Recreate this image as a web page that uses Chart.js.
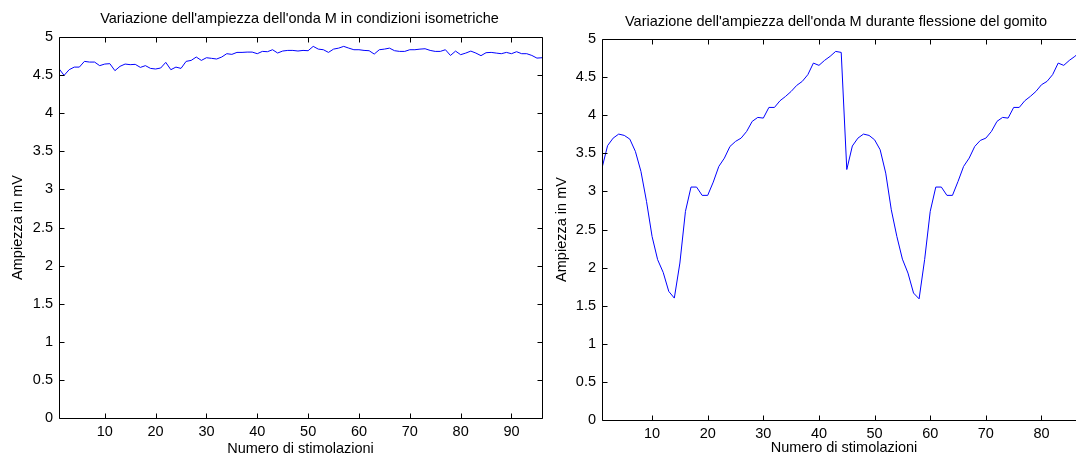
<!DOCTYPE html>
<html><head><meta charset="utf-8">
<script src="https://cdn.jsdelivr.net/npm/chart.js@4/dist/chart.umd.min.js"></script>
<style>
html,body{margin:0;padding:0;background:#fff;overflow:hidden;width:1076px;height:458px;}
#c1{position:absolute;left:0;top:0;}
#c2{position:absolute;left:540px;top:0;}
</style></head><body>
<canvas id="c1" width="560" height="458"></canvas>
<canvas id="c2" width="560" height="458"></canvas>
<script>
// ---- data ----
const isoValues = [4.584,4.496,4.571,4.605,4.605,4.680,4.671,4.671,4.624,4.645,
  4.650,4.558,4.615,4.645,4.637,4.641,4.601,4.624,4.588,4.580,
  4.593,4.667,4.571,4.605,4.588,4.680,4.693,4.737,4.693,4.728,
  4.720,4.711,4.737,4.781,4.772,4.798,4.798,4.802,4.802,4.781,
  4.811,4.807,4.833,4.790,4.816,4.824,4.824,4.816,4.824,4.820,
  4.877,4.841,4.833,4.798,4.841,4.854,4.877,4.854,4.833,4.833,
  4.824,4.820,4.776,4.833,4.841,4.854,4.820,4.811,4.811,4.833,
  4.833,4.841,4.846,4.824,4.811,4.811,4.833,4.758,4.815,4.768,
  4.789,4.815,4.789,4.755,4.794,4.798,4.789,4.781,4.798,4.781,
  4.807,4.781,4.781,4.758,4.723,4.728];
const flexValues = [3.306,3.600,3.699,3.752,3.735,3.686,3.525,3.262,2.869,2.409,
  2.104,1.937,1.688,1.600,2.060,2.738,3.057,3.057,2.948,2.948,
  3.122,3.328,3.437,3.590,3.656,3.699,3.787,3.919,3.971,3.962,
  4.102,4.102,4.190,4.247,4.312,4.391,4.444,4.532,4.684,4.654,
  4.719,4.772,4.837,4.824,3.287,3.596,3.699,3.752,3.735,3.677,
  3.546,3.240,2.759,2.409,2.111,1.928,1.666,1.590,2.108,2.738,
  3.057,3.057,2.948,2.948,3.131,3.328,3.437,3.590,3.669,3.699,
  3.787,3.919,3.971,3.962,4.102,4.102,4.190,4.247,4.312,4.400,
  4.444,4.532,4.684,4.654,4.719,4.772,4.837,4.824];
const yTickValues = [0,0.5,1,1.5,2,2.5,3,3.5,4,4.5,5];
const leftXTicks = [10,20,30,40,50,60,70,80,90];
const rightXTicks = [10,20,30,40,50,60,70,80];
const leftTitle = "Variazione dell'ampiezza dell'onda M in condizioni isometriche";
const rightTitle = "Variazione dell'ampiezza dell'onda M durante flessione del gomito";
const xLabel = "Numero di stimolazioni";
const yLabel = "Ampiezza in mV";

const FONT = {family: "'Liberation Sans', Arial, sans-serif", size: 14.5};
Chart.defaults.color = '#000';

const frameTicks = {
  id: 'frameTicks',
  afterLayout(chart, args, opts) {
    const s = (opts && opts.titleShift) || 0;
    if (s && chart.titleBlock) {
      chart.titleBlock.left += s;
      chart.titleBlock.right += s;
    }
  },
  afterDatasetsDraw(chart) {
    const {ctx, chartArea, scales} = chart;
    const L = Math.round(chartArea.left) + 0.5, R = Math.round(chartArea.right) + 0.5;
    const T = Math.round(chartArea.top) + 0.5, B = Math.round(chartArea.bottom) + 0.5;
    const tl = 5;
    ctx.save();
    ctx.strokeStyle = '#000';
    ctx.lineWidth = 1;
    ctx.beginPath();
    ctx.rect(L, T, R - L, B - T);
    scales.x.ticks.forEach(t => {
      const px = Math.round(scales.x.getPixelForValue(t.value)) + 0.5;
      ctx.moveTo(px, B); ctx.lineTo(px, B - tl);
      ctx.moveTo(px, T); ctx.lineTo(px, T + tl);
    });
    scales.y.ticks.forEach(t => {
      const py = Math.round(scales.y.getPixelForValue(t.value)) + 0.5;
      ctx.moveTo(L, py); ctx.lineTo(L + tl, py);
      ctx.moveTo(R, py); ctx.lineTo(R - tl, py);
    });
    ctx.stroke();
    ctx.restore();
  }
};

function makeChart(id, values, xMax, xTicks, title, geo) {
  const labels = values.map((v, i) => i + 1);
  return new Chart(document.getElementById(id), {
    type: 'line',
    data: {
      labels: labels,
      datasets: [{
        data: values.map((v, i) => ({x: labels[i], y: v})),
        borderColor: '#0000ff',
        borderWidth: 1,
        pointRadius: 0,
        tension: 0,
        fill: false
      }]
    },
    options: {
      responsive: false,
      animation: false,
      events: [],
      layout: {padding: {left: 0, right: geo.padRight, top: 0, bottom: 0}},
      plugins: {
        legend: {display: false},
        tooltip: {enabled: false},
        frameTicks: {titleShift: geo.titleShift},
        title: {
          display: true, text: title, color: '#000', fullSize: false,
          font: {...FONT, weight: 'normal'},
          padding: {top: geo.titleTop, bottom: geo.titleBottom}
        }
      },
      scales: {
        x: {
          type: 'linear', min: 1, max: xMax,
          afterBuildTicks: s => { s.ticks = xTicks.map(v => ({value: v})); },
          afterFit: s => { s.height = geo.xHeight; },
          grid: {display: false, drawTicks: false},
          border: {display: false},
          ticks: {font: FONT, color: '#000', padding: 5, maxRotation: 0, autoSkip: false,
                   callback: v => String(v)},
          title: {display: true, text: xLabel, font: FONT, color: '#000',
                  padding: {top: 0, bottom: geo.xTitleBottom}}
        },
        y: {
          type: 'linear', min: 0, max: 5,
          afterBuildTicks: s => { s.ticks = yTickValues.map(v => ({value: v})); },
          afterFit: s => { s.width = geo.yWidth; },
          grid: {display: false, drawTicks: false},
          border: {display: false},
          ticks: {font: FONT, color: '#000', padding: 6, autoSkip: false,
                   callback: v => String(v)},
          title: {display: true, text: yLabel, font: FONT, color: '#000',
                  padding: {top: geo.yTitleTop, bottom: 0}}
        }
      }
    },
    plugins: [frameTicks]
  });
}

makeChart('c1', isoValues, 96, leftXTicks, leftTitle,
  {padRight: 18, titleTop: 10.3, titleBottom: 9.3, titleShift: -1, xHeight: 40, xTitleBottom: 0.5, yWidth: 59, yTitleTop: 9.3});
makeChart('c2', flexValues, 88, rightXTicks, rightTitle,
  {padRight: 14, titleTop: 12.8, titleBottom: 8.8, titleShift: -8, xHeight: 38, xTitleBottom: 1, yWidth: 62, yTitleTop: 13.3});
</script>
</body></html>
